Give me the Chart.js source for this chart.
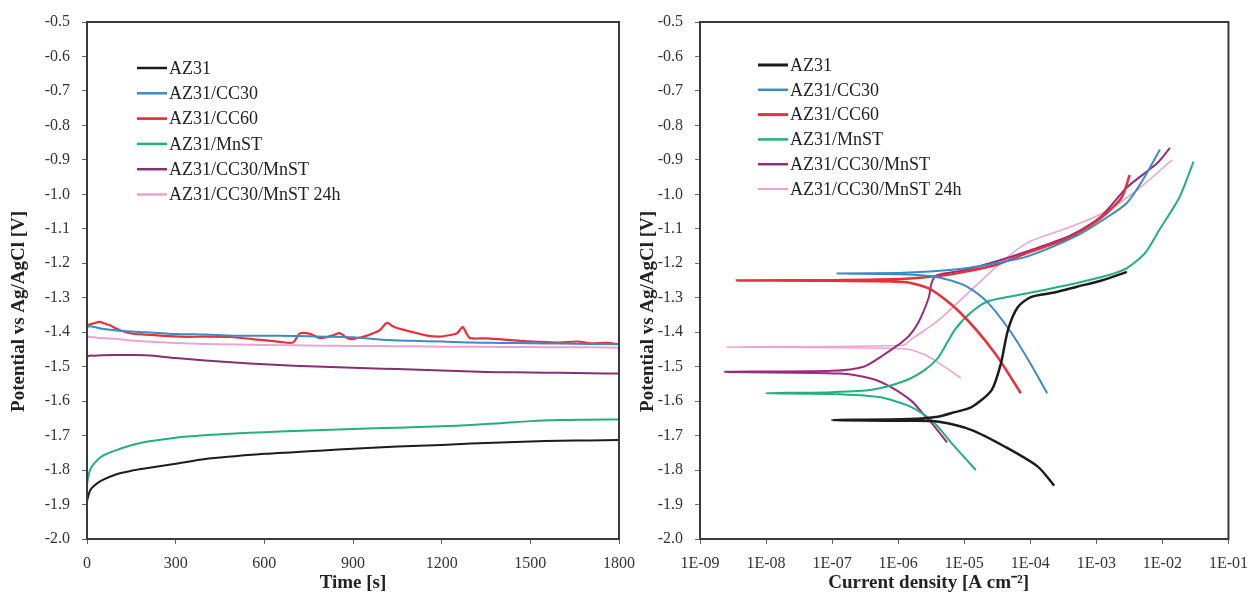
<!DOCTYPE html>
<html>
<head>
<meta charset="utf-8">
<script src="https://cdn.jsdelivr.net/npm/chart.js@4.4.0/dist/chart.umd.min.js"></script>
<style>
  body { margin: 0; background: #fff; }
  #wrap { position: relative; width: 1258px; height: 596px; }
  canvas { position: absolute; top: 0; }
  #ocp { left: 0; }
  #pol { left: 629px; }
</style>
</head>
<body>
<div id="wrap">
  <canvas id="ocp" width="645" height="596"></canvas>
  <canvas id="pol" width="629" height="596"></canvas>
</div>
<script>
// series names and colours
const seriesNames = ["AZ31", "AZ31/CC30", "AZ31/CC60", "AZ31/MnST", "AZ31/CC30/MnST", "AZ31/CC30/MnST 24h"];
const seriesColors = ["#1c1c1c", "#3b8cc2", "#e8303a", "#22b07d", "#87306f", "#e8a4d4"];

// left panel: open circuit potential vs time
const timeS = [0, 10, 25, 50, 100, 150, 200, 300, 400, 500, 600, 700, 800, 900, 1000, 1100, 1200, 1300, 1400, 1500, 1600, 1700, 1800];
const ocpAZ31 = [-1.89, -1.86, -1.845, -1.83, -1.812, -1.802, -1.795, -1.782, -1.768, -1.76, -1.753, -1.748, -1.743, -1.738, -1.734, -1.73, -1.727, -1.723, -1.72, -1.717, -1.715, -1.714, -1.713];
const ocpCC30 = [-1.385, -1.383, -1.385, -1.39, -1.395, -1.398, -1.4, -1.405, -1.407, -1.41, -1.41, -1.411, -1.413, -1.415, -1.422, -1.425, -1.427, -1.43, -1.431, -1.432, -1.433, -1.434, -1.435];
const ocpMnST = [-1.84, -1.80, -1.78, -1.76, -1.742, -1.728, -1.718, -1.706, -1.699, -1.694, -1.69, -1.687, -1.684, -1.681, -1.678, -1.676, -1.673, -1.669, -1.664, -1.658, -1.655, -1.654, -1.653];
const ocpCC30MnST = [-1.47, -1.468, -1.468, -1.467, -1.466, -1.466, -1.467, -1.475, -1.482, -1.488, -1.493, -1.497, -1.5, -1.503, -1.506, -1.508, -1.511, -1.514, -1.516, -1.517, -1.518, -1.519, -1.52];
const ocp24h = [-1.412, -1.414, -1.415, -1.417, -1.42, -1.424, -1.427, -1.431, -1.434, -1.436, -1.437, -1.438, -1.439, -1.44, -1.44, -1.441, -1.442, -1.442, -1.443, -1.443, -1.444, -1.444, -1.445];
const cc60Time = [0, 20, 44, 60, 78, 100, 145, 200, 315, 400, 484, 560, 653, 697, 710, 721, 755, 788, 830, 856, 880, 900, 947, 968, 990, 1015, 1035, 1049, 1080, 1117, 1150, 1194, 1230, 1252, 1265, 1272, 1285, 1296, 1350, 1421, 1480, 1533, 1600, 1660, 1700, 1760, 1800];
const ocpCC60 = [-1.38, -1.375, -1.37, -1.375, -1.38, -1.39, -1.403, -1.407, -1.413, -1.413, -1.414, -1.42, -1.428, -1.43, -1.415, -1.403, -1.405, -1.417, -1.41, -1.403, -1.417, -1.42, -1.41, -1.403, -1.395, -1.373, -1.383, -1.388, -1.395, -1.403, -1.41, -1.413, -1.408, -1.403, -1.39, -1.385, -1.405, -1.417, -1.418, -1.422, -1.426, -1.428, -1.43, -1.427, -1.432, -1.431, -1.435];

// right panel: polarisation curves (current density A/cm2, potential V)
const az31Current = [2.3e-4, 1.3e-4, 4.2e-5, 1.3e-5, 4.1e-6, 1.5e-6, 1e-7, 1.5e-6, 4e-6, 7.2e-6, 1.3e-5, 2.6e-5, 3.6e-5, 4.6e-5, 6.5e-5, 1.02e-4, 2.3e-4, 5.1e-4, 1.2e-3, 2.9e-3];
const az31Potential = [-1.845, -1.79, -1.733, -1.684, -1.66, -1.657, -1.655, -1.652, -1.645, -1.632, -1.617, -1.568, -1.49, -1.393, -1.327, -1.298, -1.285, -1.268, -1.25, -1.225];
const cc30Current = [1.8e-4, 1e-4, 5.1e-5, 2.3e-5, 1.15e-5, 6.3e-6, 3e-6, 1e-6, 1.2e-7, 1e-6, 3e-6, 1e-5, 3e-5, 9.1e-5, 5.1e-4, 1.5e-3, 2.9e-3, 5e-3, 9.2e-3];
const cc30Potential = [-1.577, -1.49, -1.40, -1.315, -1.27, -1.25, -1.237, -1.232, -1.23, -1.228, -1.224, -1.215, -1.2, -1.18, -1.12, -1.065, -1.025, -0.96, -0.87];
const cc60Current = [7.2e-5, 2.9e-5, 8.9e-6, 3.2e-6, 1.3e-6, 1e-7, 3.6e-9, 1e-7, 1.3e-6, 5e-6, 1e-5, 3e-5, 9.1e-5, 4e-4, 1.15e-3, 2.4e-3, 3.2e-3];
const cc60Potential = [-1.577, -1.46, -1.345, -1.277, -1.255, -1.251, -1.25, -1.249, -1.245, -1.235, -1.225, -1.205, -1.17, -1.125, -1.07, -1.01, -0.944];
const mnstCurrent = [1.5e-5, 7e-6, 3.2e-6, 1.5e-6, 5.1e-7, 1e-7, 1e-8, 1e-7, 4e-7, 1.3e-6, 2.5e-6, 4.1e-6, 7.2e-6, 1.3e-5, 2.3e-5, 9.1e-5, 5.1e-4, 1.5e-3, 2.9e-3, 5.5e-3, 9.2e-3, 1.8e-2, 2.96e-2];
const mnstPotential = [-1.80, -1.73, -1.655, -1.615, -1.588, -1.579, -1.577, -1.574, -1.567, -1.54, -1.51, -1.472, -1.393, -1.341, -1.31, -1.287, -1.257, -1.235, -1.214, -1.17, -1.10, -1.01, -0.905];
const cc30mnstCurrent = [5.5e-6, 3.2e-6, 2.6e-6, 1.6e-6, 7.9e-7, 4e-7, 1.3e-7, 2.4e-9, 1e-7, 3e-7, 5.6e-7, 1.3e-6, 2e-6, 2.9e-6, 3.2e-6, 3.8e-6, 1e-5, 3e-5, 9.1e-5, 4e-4, 1.15e-3, 2.9e-3, 8.3e-3, 1.3e-2];
const cc30mnstPotential = [-1.72, -1.663, -1.645, -1.60, -1.56, -1.535, -1.52, -1.515, -1.512, -1.50, -1.47, -1.42, -1.373, -1.30, -1.258, -1.235, -1.22, -1.195, -1.165, -1.12, -1.066, -0.98, -0.91, -0.865];
const h24Current = [8.9e-6, 5e-6, 2.5e-6, 1.2e-6, 2.5e-9, 1.2e-6, 1.6e-6, 4.1e-6, 1.15e-5, 3.5e-5, 9.1e-5, 4e-4, 1.15e-3, 4e-3, 1.4e-2];
const h24Potential = [-1.533, -1.50, -1.465, -1.448, -1.443, -1.438, -1.42, -1.365, -1.286, -1.20, -1.14, -1.095, -1.058, -0.99, -0.90];

// tick labels
const timeTicks = [0, 300, 600, 900, 1200, 1500, 1800];
const decadeExps = [-9, -8, -7, -6, -5, -4, -3, -2, -1];

const FONT = "'Liberation Serif', 'Times New Roman', serif";
// trailing no-break spaces push the axis titles off centre, as in the figure
const PAD = n => "\u00A0".repeat(n);

function pairs(xs, ys) {
    return xs.map((x, i) => ({ x: x, y: ys[i] }));
}

// box around the plot area
const framePlugin = {
    id: "frame",
    afterDatasetsDraw(chart) {
        const a = chart.chartArea;
        const ctx = chart.ctx;
        ctx.save();
        ctx.strokeStyle = "#3a3a3a";
        ctx.lineWidth = 2;
        ctx.strokeRect(a.left, a.top, a.right - a.left, a.bottom - a.top);
        ctx.restore();
    }
};

// legend drawn inside the plot area
const insideLegend = {
    id: "insideLegend",
    afterDraw(chart, args, opts) {
        const a = chart.chartArea;
        const ctx = chart.ctx;
        ctx.save();
        ctx.font = "18px " + FONT;
        ctx.textBaseline = "middle";
        chart.data.datasets.forEach((ds, i) => {
            const y = a.top + opts.dy + i * opts.gap;
            const x = a.left + opts.dx;
            ctx.strokeStyle = ds.borderColor;
            ctx.lineWidth = ds.borderWidth + 0.5;
            ctx.beginPath();
            ctx.moveTo(x, y);
            ctx.lineTo(x + 30, y);
            ctx.stroke();
            ctx.fillStyle = "#222";
            ctx.fillText(ds.label, x + 32, y + 1);
        });
        ctx.restore();
    }
};

const tickFont = { family: FONT, size: 16 };
const titleFont = { family: FONT, size: 19, weight: "bold" };

function yAxis(width) {
    return {
        min: -2.0,
        max: -0.5,
        afterFit(scale) { scale.width = width; },
        ticks: {
            stepSize: 0.1,
            padding: 12,
            color: "#333",
            font: tickFont,
            callback: v => (Math.round(v * 10) / 10).toFixed(1)
        },
        grid: { drawOnChartArea: false, tickLength: 5, color: "#666" },
        border: { display: false },
        title: {
            display: true,
            text: "Potential vs Ag/AgCl [V]" + PAD(13),
            color: "#222",
            font: titleFont,
            padding: { top: 8, bottom: 0 }
        }
    };
}

new Chart(document.getElementById("ocp"), {
    type: "line",
    data: {
        datasets: [
            { label: seriesNames[0], data: pairs(timeS, ocpAZ31), borderColor: seriesColors[0], borderWidth: 2 },
            { label: seriesNames[1], data: pairs(timeS, ocpCC30), borderColor: seriesColors[1], borderWidth: 2 },
            { label: seriesNames[2], data: pairs(cc60Time, ocpCC60), borderColor: seriesColors[2], borderWidth: 2.2 },
            { label: seriesNames[3], data: pairs(timeS, ocpMnST), borderColor: seriesColors[3], borderWidth: 2 },
            { label: seriesNames[4], data: pairs(timeS, ocpCC30MnST), borderColor: seriesColors[4], borderWidth: 2 },
            { label: seriesNames[5], data: pairs(timeS, ocp24h), borderColor: seriesColors[5], borderWidth: 2 }
        ]
    },
    options: {
        responsive: false,
        animation: false,
        elements: { point: { radius: 0 }, line: { tension: 0.3 } },
        layout: { padding: { left: 0, right: 26, top: 22, bottom: 0 } },
        plugins: {
            legend: { display: false },
            tooltip: { enabled: false },
            insideLegend: { dx: 50, dy: 46, gap: 25.3 }
        },
        scales: {
            x: {
                type: "linear",
                min: 0,
                max: 1800,
                afterFit(scale) { scale.height = 57; },
                afterBuildTicks(scale) { scale.ticks = timeTicks.map(v => ({ value: v })); },
                ticks: { padding: 10, color: "#333", font: tickFont, maxRotation: 0, callback: v => String(v) },
                grid: { drawOnChartArea: false, tickLength: 5, color: "#666" },
                border: { display: false },
                title: { display: true, text: "Time [s]", color: "#222", font: titleFont, padding: { top: 0, bottom: 2 } }
            },
            y: yAxis(87)
        }
    },
    plugins: [framePlugin, insideLegend]
});

new Chart(document.getElementById("pol"), {
    type: "line",
    data: {
        datasets: [
            { label: seriesNames[0], data: pairs(az31Current, az31Potential), borderColor: seriesColors[0], borderWidth: 2.5 },
            { label: seriesNames[1], data: pairs(cc30Current, cc30Potential), borderColor: seriesColors[1], borderWidth: 2 },
            { label: seriesNames[2], data: pairs(cc60Current, cc60Potential), borderColor: seriesColors[2], borderWidth: 2.5 },
            { label: seriesNames[3], data: pairs(mnstCurrent, mnstPotential), borderColor: seriesColors[3], borderWidth: 2 },
            { label: seriesNames[4], data: pairs(cc30mnstCurrent, cc30mnstPotential), borderColor: "#9a2a7c", borderWidth: 2 },
            { label: seriesNames[5], data: pairs(h24Current, h24Potential), borderColor: seriesColors[5], borderWidth: 1.6 }
        ]
    },
    options: {
        responsive: false,
        animation: false,
        elements: { point: { radius: 0 }, line: { tension: 0.25 } },
        layout: { padding: { left: 0, right: 25, top: 22, bottom: 0 } },
        plugins: {
            legend: { display: false },
            tooltip: { enabled: false },
            insideLegend: { dx: 58, dy: 43, gap: 24.8 }
        },
        scales: {
            x: {
                type: "logarithmic",
                min: 1e-9,
                max: 1e-1,
                afterFit(scale) { scale.height = 57; },
                afterBuildTicks(scale) { scale.ticks = decadeExps.map(e => ({ value: Math.pow(10, e) })); },
                ticks: {
                    padding: 10,
                    color: "#333",
                    font: tickFont,
                    maxRotation: 0,
                    autoSkip: false,
                    callback: v => "1E-" + String(-Math.round(Math.log10(v))).padStart(2, "0")
                },
                grid: { drawOnChartArea: false, tickLength: 5, color: "#666" },
                border: { display: false },
                title: { display: true, text: "Current density [A cm\u207B\u00B2]" + PAD(15), color: "#222", font: titleFont, padding: { top: 0, bottom: 2 } }
            },
            y: yAxis(71)
        }
    },
    plugins: [framePlugin, insideLegend]
});
</script>
</body>
</html>
